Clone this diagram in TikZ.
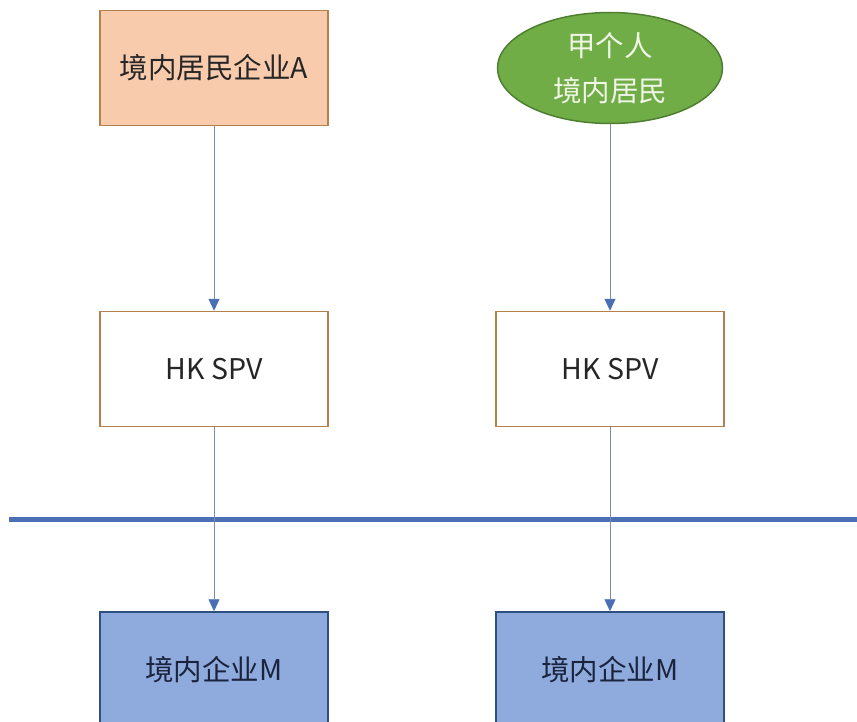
\documentclass[tikz,border=0pt]{standalone}
\usepackage{fontspec}
\setmainfont{Noto Sans CJK SC}
\usetikzlibrary{arrows.meta,shapes.geometric}
\definecolor{peach}{HTML}{F8CBAD}
\definecolor{peachline}{HTML}{B5804F}
\definecolor{leaf}{HTML}{70AD47}
\definecolor{leafline}{HTML}{4E7F30}
\definecolor{sky}{HTML}{8FAADC}
\definecolor{skyline}{HTML}{2F4F7F}
\definecolor{ruleblue}{HTML}{4A6FB5}
\definecolor{link}{HTML}{7E8CA8}
\tikzset{
  box/.style={draw=peachline, line width=1.5pt, minimum width=228pt,
    minimum height=115pt, inner sep=0pt, text=black!85},
  bluebox/.style={box, draw=skyline, fill=sky, text={rgb,255:red,25;green,35;blue,60}},
  flow/.style={draw=link, line width=0.9pt,
    -{Triangle[width=11pt,length=12pt,color=ruleblue]}}
}
\begin{document}
\begin{tikzpicture}[x=1pt,y=-1pt,
    every node/.style={font=\fontsize{28.5}{45}\selectfont}]
  \useasboundingbox (0,0) rectangle (857,722);
  \node[box, fill=peach] (enta) at (214,68) {境内居民企业A};
  \node[ellipse, draw=leafline, fill=leaf, line width=1.5pt, minimum width=225pt,
    minimum height=111pt, inner sep=0pt, align=center, text={rgb,255:red,240;green,245;blue,230}]
    (jia) at (610,68) {甲个人\\境内居民};
  \node[box, fill=white] (spva) at (214,369) {HK SPV};
  \node[box, fill=white] (spvb) at (610,369) {HK SPV};
  \node[bluebox] (ma) at (214,669.5) {境内企业M};
  \node[bluebox] (mb) at (610,669.5) {境内企业M};
  % border line
  \coordinate (bl) at (9,519);
  \coordinate (br) at (860,519);
  \draw[ruleblue, line width=5pt] (bl) -- (br);
  \draw[flow] (enta) -- (spva);
  \draw[flow] (jia) -- (spvb);
  \draw[flow] (spva) -- (ma);
  \draw[flow] (spvb) -- (mb);
\end{tikzpicture}
\end{document}
